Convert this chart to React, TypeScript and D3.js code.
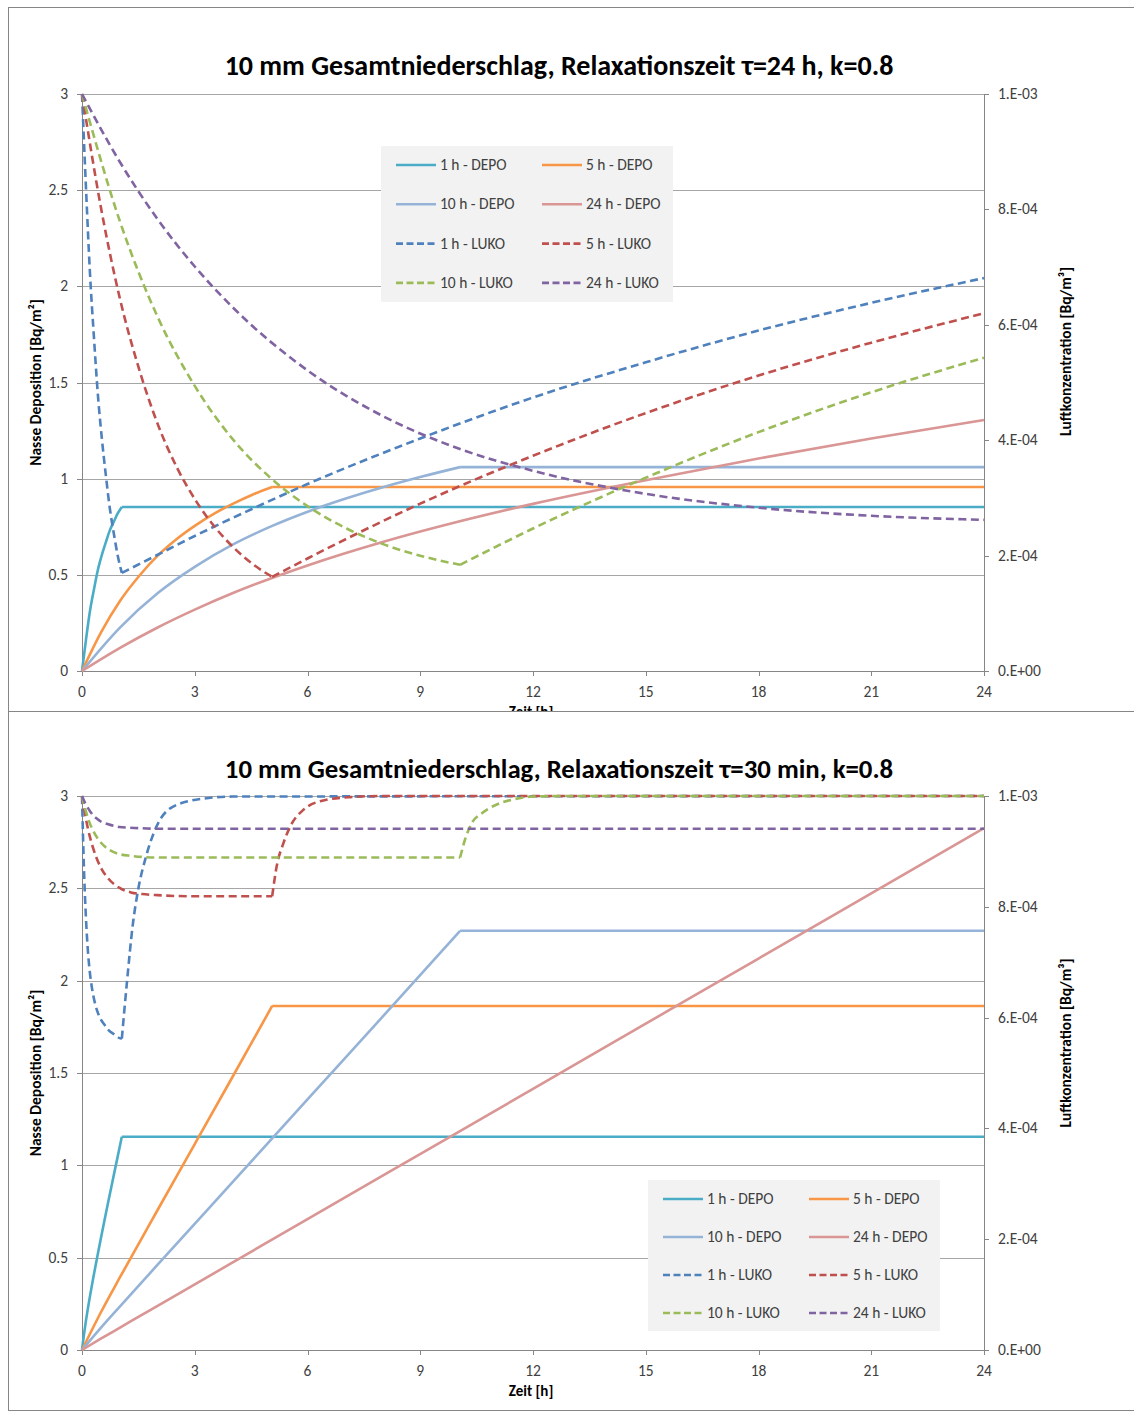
import React from 'react';
import * as d3 from 'd3';

type P = [number, number];

// ---------- axes / labels ----------
const X_TICKS = [0, 3, 6, 9, 12, 15, 18, 21, 24];
const Y_TICKS = [0, 0.5, 1, 1.5, 2, 2.5, 3];
const Y_TICK_LABELS = ['0', '0.5', '1', '1.5', '2', '2.5', '3'];
const Y2_TICKS = [0, 2e-4, 4e-4, 6e-4, 8e-4, 1e-3];
const Y2_TICK_LABELS = ['0.E+00', '2.E-04', '4.E-04', '6.E-04', '8.E-04', '1.E-03'];
const DEPO_NAMES = ['1 h - DEPO', '5 h - DEPO', '10 h - DEPO', '24 h - DEPO'];
const LUKO_NAMES = ['1 h - LUKO', '5 h - LUKO', '10 h - LUKO', '24 h - LUKO'];
const DEPO_COLORS = ['#4bacc6', '#f79646', '#95b3d7', '#d99694'];
const LUKO_COLORS = ['#4f81bd', '#c0504d', '#9bbb59', '#8064a2'];
const RAIN_END = [1.06, 5.06, 10.06, 24];
const TITLE_TOP = '10 mm Gesamtniederschlag, Relaxationszeit \u03c4=24 h, k=0.8';
const TITLE_BOTTOM = '10 mm Gesamtniederschlag, Relaxationszeit \u03c4=30 min, k=0.8';

// ---------- top chart (tau = 24 h) ----------
const TOP_DEPO_1H: P[] = [[0, 0], [0.11, 0.169], [0.21, 0.309], [0.32, 0.426], [0.42, 0.524], [0.53, 0.605], [0.64, 0.673], [0.74, 0.731], [0.85, 0.778], [0.95, 0.819], [1.06, 0.853], [24, 0.853]];
const TOP_DEPO_5H: P[] = [[0, 0], [0.51, 0.202], [1.01, 0.364], [1.52, 0.494], [2.02, 0.601], [2.53, 0.688], [3.04, 0.76], [3.54, 0.821], [4.05, 0.873], [4.55, 0.918], [5.06, 0.957], [24, 0.957]];
const TOP_DEPO_10H: P[] = [[0, 0], [1.01, 0.226], [2.01, 0.404], [3.02, 0.544], [4.02, 0.658], [5.03, 0.752], [6.04, 0.831], [7.04, 0.898], [8.05, 0.958], [9.05, 1.011], [10.06, 1.06], [24, 1.06]];
const TOP_DEPO_24H: P[] = [[0, 0], [1, 0.119], [2, 0.225], [3, 0.319], [4, 0.404], [6, 0.549], [8, 0.671], [10, 0.776], [12, 0.869], [15, 0.992], [18, 1.105], [21, 1.209], [24, 1.305]];

const TOP_LUKO_1H: P[] = [[0, 10e-4], [0.11, 8.31e-4], [0.21, 6.92e-4], [0.32, 5.76e-4], [0.42, 4.81e-4], [0.53, 4.02e-4], [0.64, 3.36e-4], [0.74, 2.82e-4], [0.85, 2.37e-4], [0.95, 2.0e-4], [1.06, 1.7e-4], [2, 2.01e-4], [3, 2.34e-4], [4, 2.65e-4], [6, 3.24e-4], [9, 4.03e-4], [12, 4.74e-4], [15, 5.35e-4], [18, 5.9e-4], [21, 6.38e-4], [24, 6.81e-4]];
const TOP_LUKO_5H: P[] = [[0, 10e-4], [0.51, 8.01e-4], [1.01, 6.45e-4], [1.52, 5.23e-4], [2.02, 4.27e-4], [2.53, 3.52e-4], [3.04, 2.94e-4], [3.54, 2.49e-4], [4.05, 2.13e-4], [4.55, 1.85e-4], [5.06, 1.63e-4], [6, 1.95e-4], [9, 2.9e-4], [12, 3.73e-4], [15, 4.47e-4], [18, 5.12e-4], [21, 5.69e-4], [24, 6.2e-4]];
const TOP_LUKO_10H: P[] = [[0, 10e-4], [1.01, 7.79e-4], [2.01, 6.14e-4], [3.02, 4.92e-4], [4.02, 4.01e-4], [5.03, 3.34e-4], [6.04, 2.84e-4], [7.04, 2.47e-4], [8.05, 2.19e-4], [9.05, 1.99e-4], [10.06, 1.84e-4], [12, 2.47e-4], [15, 3.35e-4], [18, 4.14e-4], [21, 4.83e-4], [24, 5.43e-4]];
const TOP_LUKO_24H: P[] = [[0, 10e-4], [1, 8.83e-4], [2, 7.84e-4], [3, 7.01e-4], [4, 6.31e-4], [6, 5.21e-4], [8, 4.42e-4], [10, 3.86e-4], [12, 3.47e-4], [15, 3.07e-4], [18, 2.83e-4], [21, 2.69e-4], [24, 2.62e-4]];

// ---------- bottom chart (tau = 30 min) ----------
const BOT_DEPO_1H: P[] = [[0, 0], [0.05, 0.08], [0.1, 0.152], [0.15, 0.217], [0.2, 0.277], [0.25, 0.335], [0.3, 0.391], [0.4, 0.498], [0.5, 0.602], [0.6, 0.704], [0.7, 0.804], [0.85, 0.951], [1.0, 1.097], [1.06, 1.155], [24, 1.155]];
const BOT_DEPO_5H: P[] = [[0, 0], [0.5, 0.203], [1, 0.39], [2, 0.754], [3, 1.115], [4, 1.477], [5.06, 1.863], [24, 1.863]];
const BOT_DEPO_10H: P[] = [[0, 0], [0.5, 0.12], [1, 0.234], [2, 0.459], [4, 0.908], [6, 1.357], [8, 1.805], [10.06, 2.27], [24, 2.27]];
const BOT_DEPO_24H: P[] = [[0, 0], [0.5, 0.061], [1, 0.12], [2, 0.238], [4, 0.473], [8, 0.944], [12, 1.414], [16, 1.885], [20, 2.355], [24, 2.826]];

const BOT_LUKO_1H: P[] = [[0, 10e-4], [0.05, 8.73e-4], [0.1, 7.87e-4], [0.15, 7.27e-4], [0.2, 6.87e-4], [0.25, 6.6e-4], [0.3, 6.4e-4], [0.4, 6.13e-4], [0.5, 5.97e-4], [0.6, 5.87e-4], [0.7, 5.78e-4], [0.85, 5.7e-4], [1.0, 5.63e-4], [1.06, 5.62e-4], [1.2, 6.67e-4], [1.35, 7.67e-4], [1.5, 8.33e-4], [1.7, 8.9e-4], [1.97, 9.43e-4], [2.4, 9.8e-4], [3.2, 9.95e-4], [4, 9.99e-4], [24, 10e-4]];
const BOT_LUKO_5H: P[] = [[0, 10e-4], [0.1, 9.6e-4], [0.2, 9.29e-4], [0.3, 9.05e-4], [0.4, 8.86e-4], [0.5, 8.71e-4], [0.7, 8.51e-4], [1.0, 8.34e-4], [1.3, 8.26e-4], [1.6, 8.23e-4], [2.0, 8.21e-4], [3.0, 8.19e-4], [5.06, 8.19e-4], [5.18, 8.73e-4], [5.36, 9.15e-4], [5.58, 9.5e-4], [5.89, 9.75e-4], [6.42, 9.92e-4], [7.13, 9.98e-4], [8, 10e-4], [24, 10e-4]];
const BOT_LUKO_10H: P[] = [[0, 10e-4], [0.1, 9.73e-4], [0.2, 9.52e-4], [0.3, 9.37e-4], [0.4, 9.25e-4], [0.5, 9.16e-4], [0.7, 9.04e-4], [1.0, 8.95e-4], [1.3, 8.92e-4], [1.6, 8.9e-4], [2.0, 8.89e-4], [3, 8.89e-4], [10.06, 8.89e-4], [10.19, 9.21e-4], [10.37, 9.51e-4], [10.64, 9.69e-4], [10.95, 9.82e-4], [11.48, 9.94e-4], [12, 9.99e-4], [13, 10e-4], [24, 10e-4]];
const BOT_LUKO_24H: P[] = [[0, 10e-4], [0.1, 9.85e-4], [0.2, 9.74e-4], [0.3, 9.65e-4], [0.4, 9.59e-4], [0.5, 9.54e-4], [0.7, 9.49e-4], [1.0, 9.44e-4], [1.5, 9.42e-4], [2, 9.41e-4], [24, 9.41e-4]];

const FONT = 'Carlito, Lato, "Open Sans", sans-serif';
const GRID = '#a6a6a6';
const TXT = '#404040';

interface ChartProps {
  frameTop: number;
  frameBottom: number;
  titleY: number;
  titleSize: number;
  plotTop: number;
  plotBottom: number;
  title: string;
  depo: P[][];
  luko: P[][];
  legendX: number;
  legendY: number;
  legendW: number;
  legendH: number;
  legendRowGap: number;
  rightTitleOffset: number;
}

const PLOT_LEFT = 82;
const PLOT_RIGHT = 984;

function split(pts: P[], kink: number): P[][] {
  const a = pts.filter((p) => p[0] <= kink);
  const b = pts.filter((p) => p[0] >= kink);
  const out: P[][] = [a];
  if (b.length >= 2) out.push(b);
  return out;
}

const Chart: React.FC<ChartProps> = (p) => {
  const x = d3.scaleLinear().domain([0, 24]).range([PLOT_LEFT, PLOT_RIGHT]);
  const y = d3.scaleLinear().domain([0, 3]).range([p.plotBottom, p.plotTop]);
  const y2 = d3.scaleLinear().domain([0, 1e-3]).range([p.plotBottom, p.plotTop]);
  const lineL = d3.line<P>().x((d) => x(d[0])).y((d) => y(d[1])).curve(d3.curveMonotoneX);
  const lineR = d3.line<P>().x((d) => x(d[0])).y((d) => y2(d[1])).curve(d3.curveMonotoneX);
  const midY = (p.plotTop + p.plotBottom) / 2;
  const legendItems = [
    { name: DEPO_NAMES[0], color: DEPO_COLORS[0], dash: false },
    { name: DEPO_NAMES[1], color: DEPO_COLORS[1], dash: false },
    { name: DEPO_NAMES[2], color: DEPO_COLORS[2], dash: false },
    { name: DEPO_NAMES[3], color: DEPO_COLORS[3], dash: false },
    { name: LUKO_NAMES[0], color: LUKO_COLORS[0], dash: true },
    { name: LUKO_NAMES[1], color: LUKO_COLORS[1], dash: true },
    { name: LUKO_NAMES[2], color: LUKO_COLORS[2], dash: true },
    { name: LUKO_NAMES[3], color: LUKO_COLORS[3], dash: true },
  ];
  return (
    <g fontFamily={FONT}>
      <rect x={8.5} y={p.frameTop + 0.5} width={1140} height={p.frameBottom - p.frameTop} fill="#fff" stroke="#868686" strokeWidth={1} />
      <text x={559} y={p.titleY} textAnchor="middle" fontSize={p.titleSize} fontWeight="bold" fill="#000">{p.title}</text>
      {/* grid */}
      {Y_TICKS.map((t) => (
        <line key={'g' + t} x1={PLOT_LEFT} x2={PLOT_RIGHT} y1={Math.round(y(t)) + 0.5} y2={Math.round(y(t)) + 0.5} stroke={GRID} strokeWidth={1} />
      ))}
      {/* left axis */}
      <line x1={PLOT_LEFT + 0.5} x2={PLOT_LEFT + 0.5} y1={p.plotTop} y2={p.plotBottom} stroke="#868686" />
      {Y_TICKS.map((t, i) => (
        <g key={'yl' + t}>
          <line x1={PLOT_LEFT - 5} x2={PLOT_LEFT} y1={Math.round(y(t)) + 0.5} y2={Math.round(y(t)) + 0.5} stroke="#868686" />
          <text x={68} y={y(t) + 5} textAnchor="end" fontSize={15.5} fill={TXT}>{Y_TICK_LABELS[i]}</text>
        </g>
      ))}
      {/* right axis */}
      <line x1={PLOT_RIGHT + 0.5} x2={PLOT_RIGHT + 0.5} y1={p.plotTop} y2={p.plotBottom} stroke="#868686" />
      {Y2_TICKS.map((t, i) => (
        <g key={'yr' + i}>
          <line x1={PLOT_RIGHT} x2={PLOT_RIGHT + 5} y1={Math.round(y2(t)) + 0.5} y2={Math.round(y2(t)) + 0.5} stroke="#868686" />
          <text x={998} y={y2(t) + 5} textAnchor="start" fontSize={15.5} fill={TXT}>{Y2_TICK_LABELS[i]}</text>
        </g>
      ))}
      {/* x axis */}
      <line x1={PLOT_LEFT} x2={PLOT_RIGHT} y1={p.plotBottom + 0.5} y2={p.plotBottom + 0.5} stroke="#868686" />
      {X_TICKS.map((t) => (
        <g key={'x' + t}>
          <line x1={Math.round(x(t)) + 0.5} x2={Math.round(x(t)) + 0.5} y1={p.plotBottom} y2={p.plotBottom + 5} stroke="#868686" />
          <text x={x(t)} y={p.plotBottom + 25.5} textAnchor="middle" fontSize={15.5} fill={TXT}>{t}</text>
        </g>
      ))}
      <text x={531} y={p.plotBottom + 46} textAnchor="middle" fontSize={15} fontWeight="bold" fill="#000">Zeit [h]</text>
      <text transform={`translate(41, ${midY}) rotate(-90)`} textAnchor="middle" fontSize={15.5} fontWeight="bold" fill="#000">Nasse Deposition [Bq/m²]</text>
      <text transform={`translate(1071, ${midY + p.rightTitleOffset}) rotate(-90)`} textAnchor="middle" fontSize={15.5} fontWeight="bold" fill="#000">Luftkonzentration [Bq/m³]</text>
      {/* series */}
      {p.depo.map((s, i) =>
        split(s, RAIN_END[i]).map((seg, j) => (
          <path key={'d' + i + '_' + j} d={lineL(seg) || ''} fill="none" stroke={DEPO_COLORS[i]} strokeWidth={2.6} strokeLinejoin="round" />
        ))
      )}
      {p.luko.map((s, i) =>
        split(s, RAIN_END[i]).map((seg, j) => (
          <path key={'l' + i + '_' + j} d={lineR(seg) || ''} fill="none" stroke={LUKO_COLORS[i]} strokeWidth={2.6} strokeDasharray="8,4.5" strokeLinejoin="round" />
        ))
      )}
      {/* legend */}
      <rect x={p.legendX} y={p.legendY} width={p.legendW} height={p.legendH} fill="#f2f2f2" />
      {legendItems.map((it, k) => {
        const row = Math.floor(k / 2);
        const col = k % 2;
        const lx = p.legendX + 15 + col * 146;
        const ly = p.legendY + 19 + row * p.legendRowGap;
        return (
          <g key={'lg' + k}>
            <line x1={lx} x2={lx + 40} y1={ly} y2={ly} stroke={it.color} strokeWidth={2.6} strokeDasharray={it.dash ? '7,3.5' : undefined} />
            <text x={lx + 44} y={ly + 5} fontSize={15.5} fill={TXT}>{it.name}</text>
          </g>
        );
      })}
    </g>
  );
};

export default function App() {
  return (
    <div style={{ position: 'absolute', left: 0, top: 0 }}>
      <svg width={1134} height={1412} style={{ display: 'block' }}>
        <rect x={0} y={0} width={1134} height={1412} fill="#fff" />
        <Chart
          frameTop={7}
          frameBottom={760}
          titleY={75}
          titleSize={28}
          plotTop={94}
          plotBottom={671}
          title={TITLE_TOP}
          depo={[TOP_DEPO_1H, TOP_DEPO_5H, TOP_DEPO_10H, TOP_DEPO_24H]}
          luko={[TOP_LUKO_1H, TOP_LUKO_5H, TOP_LUKO_10H, TOP_LUKO_24H]}
          legendX={381}
          legendY={146}
          legendW={292}
          legendH={156}
          legendRowGap={39.3}
          rightTitleOffset={-31}
        />
        <Chart
          frameTop={711}
          frameBottom={1410}
          titleY={778}
          titleSize={26.8}
          plotTop={796}
          plotBottom={1350}
          title={TITLE_BOTTOM}
          depo={[BOT_DEPO_1H, BOT_DEPO_5H, BOT_DEPO_10H, BOT_DEPO_24H]}
          luko={[BOT_LUKO_1H, BOT_LUKO_5H, BOT_LUKO_10H, BOT_LUKO_24H]}
          legendX={648}
          legendY={1180}
          legendW={292}
          legendH={151}
          legendRowGap={38}
          rightTitleOffset={-30}
        />
      </svg>
    </div>
  );
}
